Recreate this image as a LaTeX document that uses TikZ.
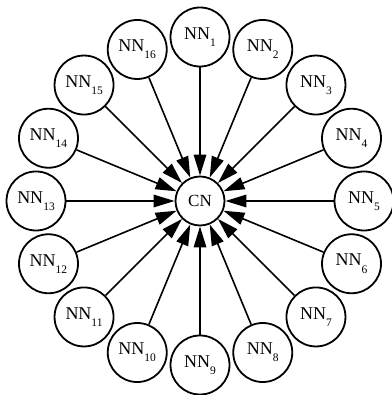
\documentclass[tikz,border=0pt]{standalone}
\usepackage{fontspec}
\setmainfont{Liberation Serif}
\usetikzlibrary{arrows.meta,calc}
\newcommand{\nnlabel}[1]{NN\raisebox{-0.4em}{\fontsize{11.5}{12}\selectfont #1}}

\begin{document}
\begin{tikzpicture}[x=1pt,y=1pt,
    nbr/.style={circle, draw, line width=1.8pt, minimum size=59pt, inner sep=0pt, font=\fontsize{18}{20}\selectfont},
    hub/.style={circle, draw, line width=1.8pt, minimum size=49pt, inner sep=0pt, font=\fontsize{17}{20}\selectfont},
    feed/.style={line width=1.6pt, -{Triangle[length=21pt,width=12.5pt]}}]
  \useasboundingbox (0,0) rectangle (391,395);
  % centre node
  \node[hub] (cn) at (200,194) {CN};
  % ring of neighbour nodes, numbered clockwise from the top
  \foreach \i in {1,...,16}{
    \node[nbr] (nn\i) at ($(cn)+({90-(\i-1)*22.5}:164)$) {\nnlabel{\i}};
    \draw[feed] (nn\i) -- (cn);
  }
\end{tikzpicture}
\end{document}
